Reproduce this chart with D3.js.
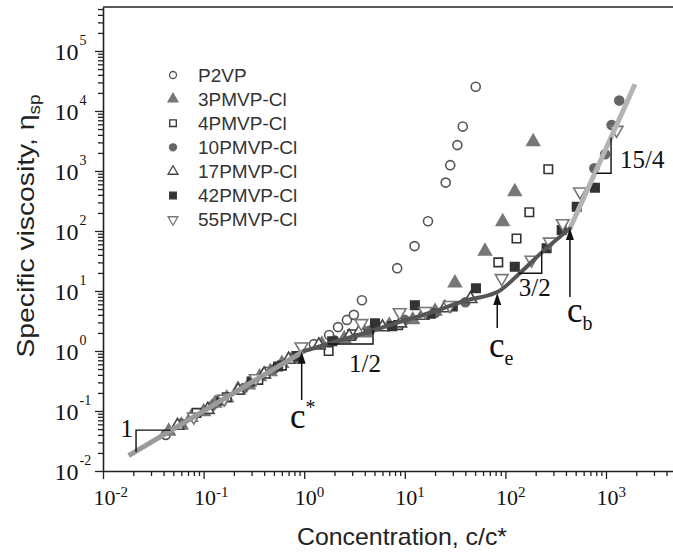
<!DOCTYPE html>
<html>
<head>
<meta charset="utf-8">
<script src="https://cdn.jsdelivr.net/npm/d3@7"></script>
<style>
  body { margin: 0; background: #fff; }
</style>
</head>
<body>
<svg id="chart" width="673" height="552"></svg>
<script>
// data: [c/c*, eta_sp]
const p2vp   = [[0.042,0.040],[0.13,0.135],[0.42,0.45],[1.25,1.3],[1.77,1.85],[2.17,2.5],[2.66,3.3],[3.12,4.0],[3.75,7.0],[8.4,24],[12.5,56],[17,145],[25.5,640],[28.3,1250],[33.3,2700],[37.7,5500],[50.7,25400]];
const pmvp3  = [[0.045,0.046],[0.06,0.058],[0.075,0.078],[0.1,0.097],[0.13,0.135],[0.17,0.165],[0.22,0.23],[0.28,0.27],[0.36,0.37],[0.46,0.45],[0.6,0.62],[0.75,0.72],[1.5,1.3],[2.5,1.6],[4,2.0],[7,2.7],[12,3.3],[20,4.6],[31.5,13.6],[62.7,46],[94,143],[124,450],[189,3080]];
const pmvp4  = [[0.085,0.093],[0.17,0.17],[0.35,0.33],[0.6,0.57],[1.75,1.0],[3,1.9],[8.6,2.7],[85,30],[129,75],[173,205],[267,1070]];
const pmvp10 = [[0.06,0.062],[0.12,0.12],[0.25,0.24],[0.5,0.5],[0.8,0.78],[2,1.5],[4.5,2.2],[10,3.3],[20,4.3],[40,6.5],[766,1110],[980,1900],[1138,5840],[1355,14900]];
const pmvp17 = [[0.055,0.057],[0.11,0.105],[0.22,0.22],[0.4,0.41],[0.7,0.72],[1.4,1.25],[2.8,1.75],[3.6,2.2],[6,2.5],[9,2.9],[15,3.9],[25,5.2],[45,7.4]];
const pmvp42 = [[0.15,0.15],[0.3,0.31],[0.55,0.55],[0.85,0.82],[1.9,1.45],[5.06,2.9],[7.5,2.6],[12.6,5.8],[18,4.2],[30,5.5],[51,11.1],[124,25.4],[257,51.5],[363,104],[512,254],[776,527]];
const pmvp55 = [[0.08,0.08],[0.16,0.16],[0.33,0.35],[0.94,1.18],[3.7,2.9],[8.9,4.4],[16,4.6],[28,5.8],[92,16.3],[182,33],[277,66],[372,134],[552,452],[1275,4820]];
const seriesNames = ["P2VP","3PMVP-Cl","4PMVP-Cl","10PMVP-Cl","17PMVP-Cl","42PMVP-Cl","55PMVP-Cl"];

// scaling lines
const fitDilute = [[0.018,0.018],[1,1]];
const fitSemi   = [[1,1],[5,2.24],[9,3.05],[20,4.6],[41,7.0],[70,8.6],[83,9.6],[140,20],[230,44],[438,110]];
const fitConc   = [[438,110],[1942,28000]];

// slope triangles and arrows
const slopeLabels = ["1","1/2","3/2","15/4"];
const slopePts = [
  [[0.0213,0.0207],[0.0213,0.048],[0.047,0.048]],
  [[1.71,1.31],[4.83,1.31],[4.83,2.25]],
  [[135,19.7],[229.6,19.7],[229.6,46]],
  [[807,916],[1123,916],[1123,3600]]
];
const arrowSubs = ["*","e","b"];
const arrowX    = [0.944, 83, 438];
const arrowFrom = [0.152, 2.42, 7.94];
const arrowTo   = [0.97, 9.3, 112];

const xTicks = [-2,-1,0,1,2,3];
const yTicks = [-2,-1,0,1,2,3,4,5];

const svg = d3.select("#chart");
const x = d3.scaleLog().domain([0.01, 5000]).range([103, 676.3]);
const y = d3.scaleLog().domain([0.01, Math.pow(10, 5.733)]).range([471, 7]);
const serif = "'Liberation Serif','Times New Roman',serif";
const sans = "'Liberation Sans',Arial,sans-serif";

// minor tick values
const xMinor = [], yMinor = [];
for (let e = -2; e <= 3; e++) for (let m = 2; m <= 9; m++) { const v = m * Math.pow(10, e); if (v <= 5000) xMinor.push(v); }
for (let e = -2; e <= 5; e++) for (let m = 2; m <= 9; m++) { const v = m * Math.pow(10, e); if (v <= Math.pow(10,5.733)) yMinor.push(v); }

// axes
function styleAxis(g) {
  g.selectAll("path").attr("stroke", "#222").attr("stroke-width", 1.6);
  g.selectAll("line").attr("stroke", "#222").attr("stroke-width", 1.3);
}
svg.append("g").attr("transform", "translate(0,471)")
  .call(d3.axisBottom(x).tickValues(xMinor).tickSize(5).tickSizeOuter(0).tickFormat(""))
  .call(styleAxis);
svg.append("g").attr("transform", "translate(0,471)")
  .call(d3.axisBottom(x).tickValues(xTicks.map(e => Math.pow(10, e))).tickSize(8).tickSizeOuter(0).tickFormat(""))
  .call(styleAxis).select("path").remove();
svg.append("g").attr("transform", "translate(103,0)")
  .call(d3.axisLeft(y).tickValues(yMinor).tickSize(5).tickSizeOuter(0).tickFormat(""))
  .call(styleAxis);
svg.append("g").attr("transform", "translate(103,0)")
  .call(d3.axisLeft(y).tickValues(yTicks.map(e => Math.pow(10, e))).tickSize(8).tickSizeOuter(0).tickFormat(""))
  .call(styleAxis).select("path").remove();
svg.append("line").attr("x1", 103).attr("x2", 673).attr("y1", 7).attr("y2", 7)
  .attr("stroke", "#222").attr("stroke-width", 1.6);

// tick labels
xTicks.forEach(e => {
  const px = x(Math.pow(10, e));
  svg.append("text").attr("x", px + 1.5).attr("y", 505).attr("text-anchor", "middle")
    .attr("font-family", serif).attr("font-size", 22).attr("fill", "#111").text("10");
  svg.append("text").attr("x", px + 12.5).attr("y", 497)
    .attr("font-family", serif).attr("font-size", 15).attr("fill", "#111").text(e);
});
yTicks.forEach(e => {
  const py = y(Math.pow(10, e));
  svg.append("text").attr("x", 78.5).attr("y", py + 9).attr("text-anchor", "end")
    .attr("font-family", serif).attr("font-size", 24).attr("fill", "#111").text("10");
  svg.append("text").attr("x", 79.5).attr("y", py - 6)
    .attr("font-family", serif).attr("font-size", 14).attr("fill", "#111").text(e);
});

// axis titles
const yt = svg.append("text").attr("transform", "translate(34,226) rotate(-90)")
  .attr("text-anchor", "middle").attr("font-family", sans).attr("font-size", 24).attr("fill", "#222")
  .attr("textLength", 263).attr("lengthAdjust", "spacingAndGlyphs");
yt.append("tspan").text("Specific viscosity, η");
yt.append("tspan").attr("dy", 6).attr("font-size", 16).text("sp");
svg.append("text").attr("x", 402).attr("y", 545).attr("text-anchor", "middle")
  .attr("font-family", sans).attr("font-size", 24).attr("fill", "#222")
  .attr("textLength", 210).attr("lengthAdjust", "spacingAndGlyphs")
  .text("Concentration, c/c*");

// markers
const series = [p2vp, pmvp3, pmvp4, pmvp10, pmvp17, pmvp42, pmvp55];
const shapes = [d3.symbolCircle, d3.symbolTriangle, d3.symbolSquare, d3.symbolCircle, d3.symbolTriangle, d3.symbolSquare, d3.symbolTriangle];
const sizes  = [64, 70, 72, 64, 70, 72, 70];
const fills  = ["#fff", "#777", "#fff", "#666", "#fff", "#333", "#fff"];
const strokes= ["#555", "#777", "#333", "#666", "#444", "#333", "#777"];
const flips  = [0, 0, 0, 0, 0, 0, 180];

series.forEach((data, i) => {
  svg.append("g").selectAll("path").data(data).enter().append("path")
    .attr("d", d3.symbol().type(shapes[i]).size(sizes[i]))
    .attr("transform", d => `translate(${x(d[0])},${y(d[1])}) rotate(${flips[i]})`)
    .attr("fill", fills[i]).attr("stroke", strokes[i]).attr("stroke-width", 1.6);
});

// fit lines
const line = d3.line().x(d => x(d[0])).y(d => y(d[1]));
svg.append("path").datum(fitDilute).attr("d", line).attr("fill", "none")
  .attr("stroke", "#9a9a9a").attr("stroke-width", 5);
svg.append("path").datum(fitConc).attr("d", line).attr("fill", "none")
  .attr("stroke", "#b4b4b4").attr("stroke-width", 5);
svg.append("path").datum(fitSemi).attr("d", line.curve(d3.curveMonotoneX)).attr("fill", "none")
  .attr("stroke", "#555").attr("stroke-width", 4).attr("stroke-linecap", "round");

// slope triangles
const slopeOffsets = [[-3, 7, "end"], [-8, 28, "middle"], [-7, 23, "middle"], [9, -5, "start"]];
slopePts.forEach((pts, i) => {
  svg.append("path").datum(pts).attr("d", d3.line().x(d => x(d[0])).y(d => y(d[1])))
    .attr("fill", "none").attr("stroke", "#111").attr("stroke-width", 1.4);
  const corner = pts[1];
  svg.append("text")
    .attr("x", x(corner[0]) + slopeOffsets[i][0]).attr("y", y(corner[1]) + slopeOffsets[i][1])
    .attr("text-anchor", slopeOffsets[i][2])
    .attr("font-family", serif).attr("font-size", 25).attr("fill", "#111").text(slopeLabels[i]);
});

// arrows with c*, ce, cb labels
const arrowLabelPos = [[290, 428, -14, 20], [489, 357, 8, 20], [567, 322, 8, 20]];
arrowX.forEach((c, i) => {
  const px = x(c), y0 = y(arrowFrom[i]), y1 = y(arrowTo[i]);
  svg.append("line").attr("x1", px).attr("x2", px).attr("y1", y0).attr("y2", y1 + 10)
    .attr("stroke", "#111").attr("stroke-width", 1.5);
  svg.append("path").attr("d", `M${px},${y1}L${px - 4},${y1 + 12}L${px + 4},${y1 + 12}Z`).attr("fill", "#111");
  const p = arrowLabelPos[i];
  const t = svg.append("text").attr("x", p[0]).attr("y", p[1])
    .attr("font-family", serif).attr("font-size", 35).attr("fill", "#111");
  t.append("tspan").text("c");
  t.append("tspan").attr("dy", p[2]).attr("font-size", p[3]).text(arrowSubs[i]);
});

// legend
seriesNames.forEach((name, i) => {
  const ly = 75 + i * 24.1;
  svg.append("path").attr("d", d3.symbol().type(shapes[i]).size(sizes[i] * 0.6))
    .attr("transform", `translate(173,${ly}) rotate(${flips[i]})`)
    .attr("fill", fills[i]).attr("stroke", strokes[i]).attr("stroke-width", 1.3);
  svg.append("text").attr("x", 198).attr("y", ly + 6.5)
    .attr("font-family", sans).attr("font-size", 19).attr("fill", "#333").text(name);
});
</script>
</body>
</html>
